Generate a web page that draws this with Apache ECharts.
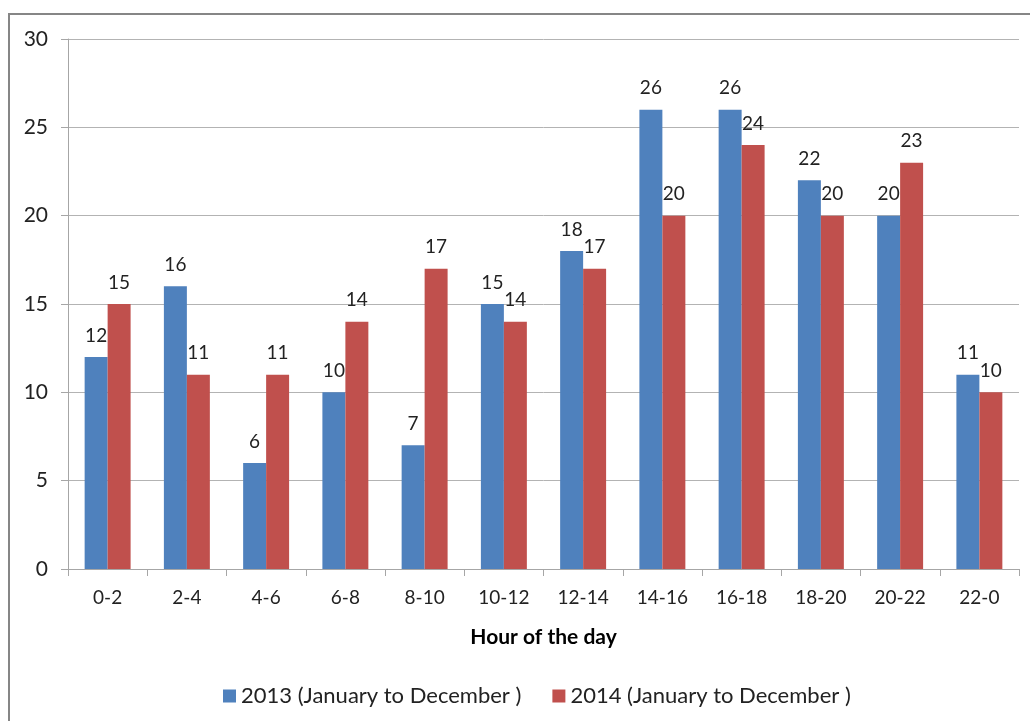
<!DOCTYPE html>
<html>
<head>
<meta charset="utf-8">
<script src="https://cdn.jsdelivr.net/npm/echarts@6/dist/echarts.min.js"></script>
<style>
  html, body { margin: 0; padding: 0; background: #fff; }
  #chart { width: 1030px; height: 721px; }
</style>
</head>
<body>
<div id="chart"></div>
<script>
// data
var hours = ['0-2', '2-4', '4-6', '6-8', '8-10', '10-12', '12-14', '14-16', '16-18', '18-20', '20-22', '22-0']
var counts2013 = [12, 16, 6, 10, 7, 15, 18, 26, 26, 22, 20, 11]
var counts2014 = [15, 11, 11, 14, 17, 14, 17, 20, 24, 20, 23, 10]
var seriesNames = ['2013 (January to December )', '2014 (January to December )']

var font = 'Lato, "Open Sans", sans-serif'
var chart = echarts.init(document.getElementById('chart'))

var labelStyle = {
  show: true,
  position: 'top',
  distance: 12,
  color: '#222',
  fontSize: 19,
  fontFamily: font
}

chart.setOption({
  animation: false,
  textStyle: { fontFamily: font },
  graphic: [{
    type: 'rect',
    shape: { x: 9, y: 14, width: 1040, height: 740 },
    style: { fill: 'none', stroke: '#868686', lineWidth: 2 }
  }],
  grid: { left: 68, right: 11, top: 39, bottom: 152, containLabel: false },
  legend: {
    top: 680,
    left: 218,
    itemWidth: 13,
    itemHeight: 13,
    itemGap: 31,
    icon: 'rect',
    textStyle: { fontSize: 22, color: '#222', fontFamily: font },
    data: seriesNames
  },
  xAxis: {
    type: 'category',
    data: hours,
    name: 'Hour of the day',
    nameLocation: 'middle',
    nameGap: 58,
    nameTextStyle: { fontSize: 21, fontWeight: 'bold', color: '#000', fontFamily: font },
    axisLine: { lineStyle: { color: '#a6a6a6', width: 1 } },
    axisTick: { show: true, length: 7, lineStyle: { color: '#a6a6a6' } },
    axisLabel: { fontSize: 19, color: '#222', margin: 19 }
  },
  yAxis: {
    type: 'value',
    min: 0,
    max: 30,
    interval: 5,
    axisLine: { show: true, lineStyle: { color: '#a6a6a6', width: 1 } },
    axisTick: { show: true, length: 7, lineStyle: { color: '#a6a6a6' } },
    axisLabel: { fontSize: 21, color: '#222', margin: 20 },
    splitLine: { lineStyle: { color: '#b3b3b3', width: 1 } }
  },
  series: [
    {
      name: seriesNames[0],
      type: 'bar',
      data: counts2013,
      barGap: '0%',
      barCategoryGap: '42%',
      itemStyle: { color: '#4f81bd' },
      label: labelStyle
    },
    {
      name: seriesNames[1],
      type: 'bar',
      data: counts2014,
      itemStyle: { color: '#c0504d' },
      label: labelStyle
    }
  ]
})
</script>
</body>
</html>
